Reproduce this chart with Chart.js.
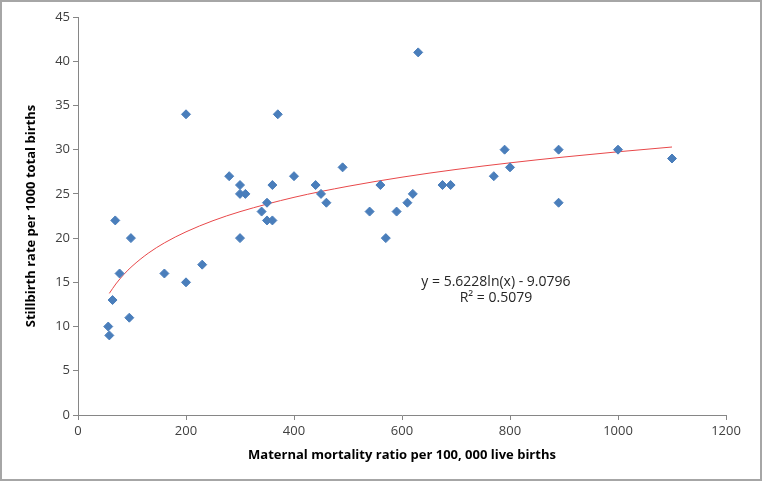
<!DOCTYPE html>
<html>
<head>
<meta charset="utf-8">
<script src="https://cdn.jsdelivr.net/npm/chart.js@4.4.0/dist/chart.umd.min.js"></script>
<style>
  html, body { margin: 0; padding: 0; background: #ffffff; }
  #wrap { width: 762px; height: 482px; }
</style>
</head>
<body>
<div id="wrap"><canvas id="c" width="762" height="482"></canvas></div>
<script>
// Maternal mortality ratio (x) and stillbirth rate (y)
const mmr = [56, 58, 64, 69, 77, 95, 98, 160, 200, 200, 230, 280, 300, 300, 310, 300, 340, 350, 350, 360, 360, 370, 400, 440, 450, 460, 490, 540, 560, 570, 590, 610, 620, 630, 675, 690, 770, 790, 800, 890, 890, 1000, 1100];
const stillbirth = [10, 9, 13, 22, 16, 11, 20, 16, 15, 34, 17, 27, 26, 25, 25, 20, 23, 24, 22, 22, 26, 34, 27, 26, 25, 24, 28, 23, 26, 20, 23, 24, 25, 41, 26, 26, 27, 30, 28, 30, 24, 30, 29];

// Logarithmic trendline, values
const trendX = [58, 70, 85, 100, 130, 160, 200, 250, 300, 400, 500, 600, 700, 800, 900, 1000, 1100];
const trendY = [13.75, 14.81, 15.90, 16.81, 18.29, 19.46, 20.71, 21.97, 22.99, 24.61, 25.86, 26.89, 27.76, 28.51, 29.17, 29.76, 30.30];

const xTicks = [0, 200, 400, 600, 800, 1000, 1200];
const yTicks = [0, 5, 10, 15, 20, 25, 30, 35, 40, 45];

const equationLines = ['y = 5.6228ln(x) - 9.0796', 'R\u00B2 = 0.5079'];
const equationAt = { x: 774, y: 15.05 };

const points = mmr.map((v, i) => ({ x: v, y: stillbirth[i] }));
const trend = trendX.map((v, i) => ({ x: v, y: trendY[i] }));

const FONT = '"Open Sans", Lato, sans-serif';

const borderPlugin = {
  id: 'outerBorder',
  afterDraw(chart) {
    const ctx = chart.ctx;
    ctx.save();
    ctx.strokeStyle = '#a6a6a6';
    ctx.lineWidth = 2;
    ctx.strokeRect(1, 1, chart.width - 2, chart.height - 3);
    ctx.restore();
  }
};

const equationPlugin = {
  id: 'equation',
  afterDatasetsDraw(chart) {
    const ctx = chart.ctx;
    const xs = chart.scales.x, ys = chart.scales.y;
    const px = xs.getPixelForValue(equationAt.x);
    const py = ys.getPixelForValue(equationAt.y);
    ctx.save();
    ctx.font = '14px ' + FONT;
    ctx.fillStyle = '#262626';
    ctx.textAlign = 'center';
    ctx.textBaseline = 'middle';
    ctx.fillText(equationLines[0], px, py);
    ctx.fillText(equationLines[1], px, py + 16);
    ctx.restore();
  }
};

new Chart(document.getElementById('c'), {
  type: 'scatter',
  data: {
    datasets: [
      {
        label: 'Stillbirth rate',
        data: points,
        pointStyle: 'rectRot',
        pointRadius: 4.5,
        pointHoverRadius: 4.5,
        backgroundColor: '#4a7ebb',
        borderColor: '#4a7ebb',
        borderWidth: 1,
        showLine: false,
        order: 1
      },
      {
        type: 'line',
        label: 'Log trend',
        data: trend,
        borderColor: '#e8484a',
        borderWidth: 1,
        pointRadius: 0,
        fill: false,
        tension: 0.4,
        cubicInterpolationMode: 'monotone',
        order: 2
      }
    ]
  },
  options: {
    responsive: false,
    animation: false,
    events: [],
    layout: { padding: { left: 0, top: 17, right: 36, bottom: 0 } },
    plugins: {
      legend: { display: false },
      tooltip: { enabled: false }
    },
    scales: {
      x: {
        type: 'linear',
        min: 0,
        max: 1200,
        afterBuildTicks(scale) { scale.ticks = xTicks.map(v => ({ value: v })); },
        afterFit(scale) { scale.height = 67; },
        border: { display: true, color: '#868686', width: 1 },
        grid: { display: true, drawOnChartArea: false, drawTicks: true, tickLength: 5, color: '#868686' },
        ticks: { color: '#404040', font: { family: FONT, size: 13 }, padding: 3, maxRotation: 0, callback: v => String(v) },
        title: {
          display: true,
          text: 'Maternal mortality ratio per 100, 000 live births',
          color: '#000000',
          font: { family: FONT, size: 13, weight: 'bold' },
          padding: { top: 0, bottom: 19 }
        }
      },
      y: {
        type: 'linear',
        min: 0,
        max: 45,
        afterBuildTicks(scale) { scale.ticks = yTicks.map(v => ({ value: v })); },
        afterFit(scale) { scale.width = 78; },
        border: { display: true, color: '#868686', width: 1 },
        grid: { display: true, drawOnChartArea: false, drawTicks: true, tickLength: 5, color: '#868686' },
        ticks: { color: '#404040', font: { family: FONT, size: 13 }, padding: 3, callback: v => String(v) },
        title: {
          display: true,
          text: 'Stillbirth rate per 1000 total births',
          color: '#000000',
          font: { family: FONT, size: 13, weight: 'bold' },
          padding: { top: 23, bottom: 0 }
        }
      }
    }
  },
  plugins: [borderPlugin, equationPlugin]
});
</script>
</body>
</html>
